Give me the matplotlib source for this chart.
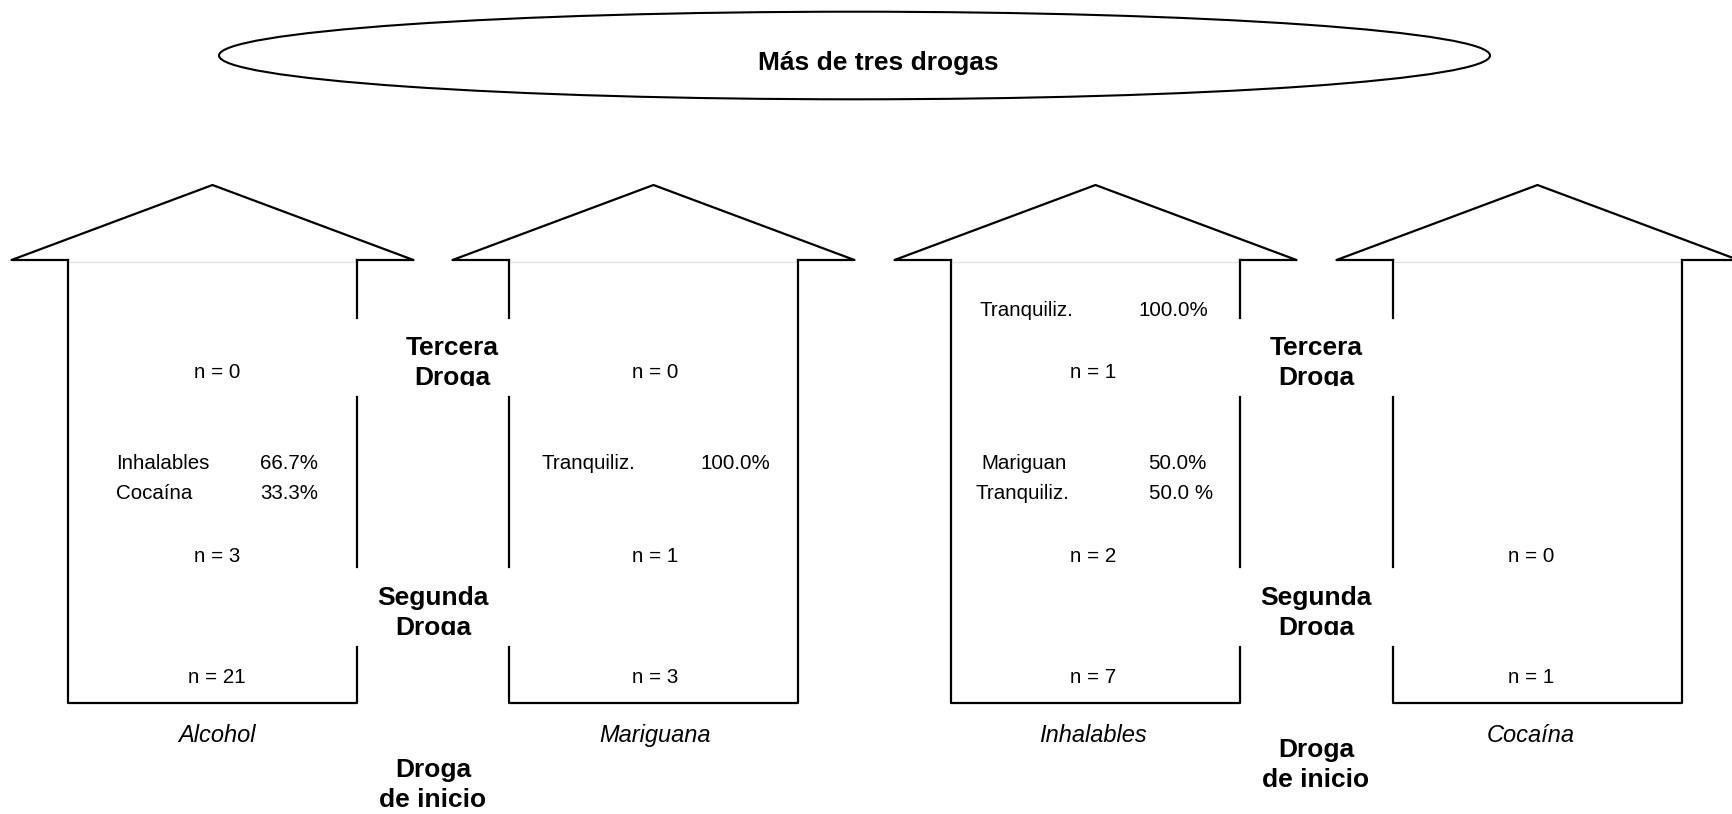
import matplotlib.pyplot as plt
from matplotlib.patches import Ellipse, Rectangle

plt.rcParams['font.family'] = ['Liberation Sans', 'DejaVu Sans']

# datos
titulo = 'Más de tres drogas'
drogas_inicio = ['Alcohol', 'Mariguana', 'Inhalables', 'Cocaína']
n_inicio = [21, 3, 7, 1]
n_segunda = [3, 1, 2, 0]
n_tercera = [0, 0, 1, None]
segunda_nombres = [['Inhalables', 'Cocaína'], ['Tranquiliz.'], ['Mariguan', 'Tranquiliz.'], []]
segunda_pct = [['66.7%', '33.3%'], ['100.0%'], ['50.0%', '50.0 %'], []]
tercera_nombres = [[], [], ['Tranquiliz.'], []]
tercera_pct = [[], [], ['100.0%'], []]
etiquetas = [('Tercera', 'Droga'), ('Segunda', 'Droga'), ('Droga', 'de inicio')]

# disposicion (pixeles)
W, H = 1732, 814
centros = [212.5, 653.5, 1095.5, 1537.5]
x_textos = [217, 655, 1093, 1531]
lado_hueco = [1, -1, 1, -1]
med_muro, med_techo = 144.5, 201
y_cumbre, y_alero, y_base = 185, 260, 703
huecos = [(318, 397), (567, 647)]

x_seg_nombre = [[116, 116], [541.7], [981.7, 975], []]
x_seg_pct = [[260, 260], [700], [1147.7, 1149], []]
x_ter_nombre = [[], [], [980], []]
x_ter_pct = [[], [], [1138], []]
y_ter_items = [316]
y_seg_items = [469.3, 499.3]
y_n_tercera, y_n_segunda, y_n_inicio, y_droga = 377.5, 561.7, 682.7, 741.7

col_x = [[452, 433, 433], [1316, 1316, 1316]]
col_y = [[(355, 385.5), (605, 634.5), (777, 807)],
         [(355, 385.5), (605, 634.5), (757, 787)]]
col_corte = [386, 635, None]   # la segunda linea aparece cortada bajo la base

fig = plt.figure(figsize=(W / 100, H / 100), dpi=100)
ax = fig.add_axes([0, 0, 1, 1])
ax.set_xlim(0, W)
ax.set_ylim(H, 0)
ax.axis('off')

lw = 1.6
normal = dict(fontsize=14.8, color='black', va='baseline')

# titulo en elipse
ax.add_patch(Ellipse((854.5, 55.5), 1271, 87.6, fill=False, lw=1.5, ec='black'))
ax.text(878, 70, titulo, ha='center', va='baseline', fontsize=19, fontweight='bold')

for i, cx in enumerate(centros):
    xl, xr = cx - med_muro, cx + med_muro
    # techo
    ax.plot([xl, cx - med_techo, cx, cx + med_techo, xr],
            [y_alero, y_alero, y_cumbre, y_alero, y_alero], color='black', lw=lw)
    ax.plot([xl, xr], [y_alero + 1.5, y_alero + 1.5], color='#e3e3e3', lw=1)
    # muros
    x_hueco = xr if lado_hueco[i] == 1 else xl
    x_lleno = xl if lado_hueco[i] == 1 else xr
    ax.plot([x_lleno, x_lleno, x_hueco, x_hueco],
            [y_alero, y_base, y_base, huecos[1][1]], color='black', lw=lw)
    ax.plot([x_hueco, x_hueco], [y_alero, huecos[0][0]], color='black', lw=lw)
    ax.plot([x_hueco, x_hueco], [huecos[0][1], huecos[1][0]], color='black', lw=lw)

    tx = x_textos[i]
    if n_tercera[i] is not None:
        ax.text(tx, y_n_tercera, 'n = {}'.format(n_tercera[i]), ha='center', **normal)
    ax.text(tx, y_n_segunda, 'n = {}'.format(n_segunda[i]), ha='center', **normal)
    ax.text(tx, y_n_inicio, 'n = {}'.format(n_inicio[i]), ha='center', **normal)
    ax.text(tx, y_droga, drogas_inicio[i], ha='center', va='baseline',
            fontsize=17, style='italic')

    for k, nombre in enumerate(segunda_nombres[i]):
        ax.text(x_seg_nombre[i][k], y_seg_items[k], nombre, ha='left', **normal)
        ax.text(x_seg_pct[i][k], y_seg_items[k], segunda_pct[i][k], ha='left', **normal)
    for k, nombre in enumerate(tercera_nombres[i]):
        ax.text(x_ter_nombre[i][k], y_ter_items[k], nombre, ha='left', **normal)
        ax.text(x_ter_pct[i][k], y_ter_items[k], tercera_pct[i][k], ha='left', **normal)

# etiquetas de niveles
for c in range(2):
    for j, (l1, l2) in enumerate(etiquetas):
        x = col_x[c][j]
        y1, y2 = col_y[c][j]
        ax.text(x, y1, l1, ha='center', va='baseline', fontsize=19, fontweight='bold')
        ax.text(x, y2, l2, ha='center', va='baseline', fontsize=19, fontweight='bold')
        if col_corte[j] is not None:
            # tapa blanca: la caja de texto del original recorta los descendentes
            ax.add_patch(Rectangle((x - 55, col_corte[j]), 110, 10, fc='white',
                                   ec='none', zorder=5))

fig.savefig('out.png', dpi=100)
